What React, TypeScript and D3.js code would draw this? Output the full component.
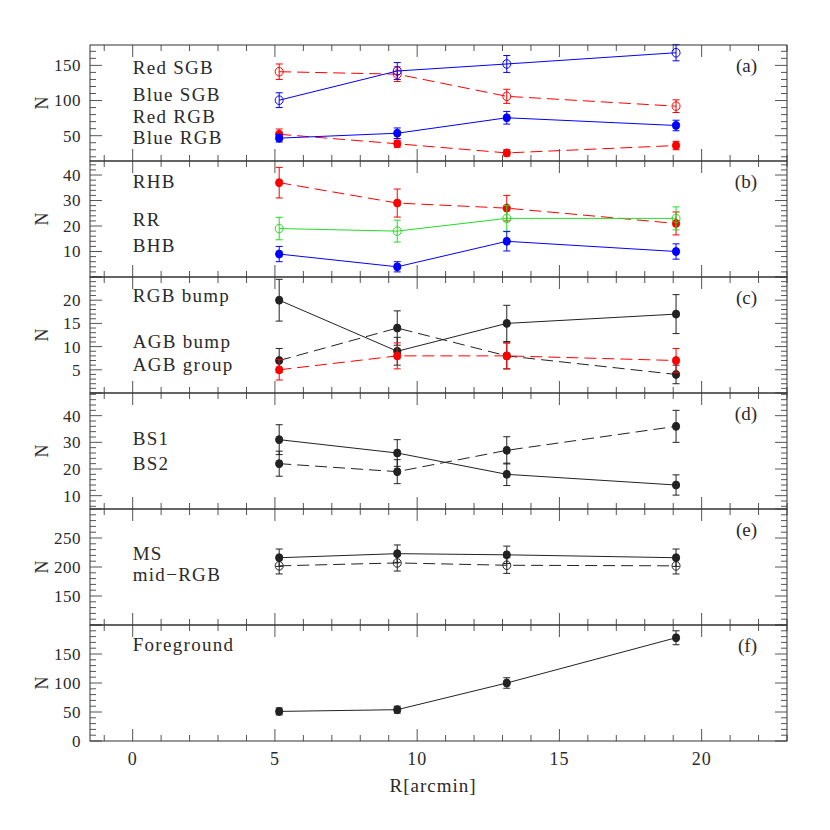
import React from "react";
import * as d3 from "d3";

// radial bins (arcmin)
const radius = [5.15, 9.3, 13.15, 19.1];

// (a) sub-giant / red giant branches
const redSGB = [141, 137.5, 106, 92];
const redSGBErr = [11, 10.5, 10, 9];
const blueSGB = [100.5, 142, 152, 168];
const blueSGBErr = [10.5, 12, 12, 11.5];
const redRGB = [52, 38.5, 25.5, 36];
const redRGBErr = [7.5, 5, 4.5, 6];
const blueRGB = [46.5, 53.5, 75.5, 64.5];
const blueRGBErr = [5.5, 7.5, 9, 7.5];

// (b) horizontal branch
const rhb = [37, 29, 27, 21];
const rhbErr = [6, 5.5, 5, 4.5];
const rr = [19, 18, 23, 23];
const rrErr = [4.4, 4.3, 5, 4.5];
const bhb = [9, 4, 14, 10];
const bhbErr = [3, 2, 3.8, 3];

// (c) bumps and AGB
const rgbBump = [20, 9, 15, 17];
const rgbBumpErr = [4.5, 3, 3.9, 4.2];
const agbBump = [7, 14, 8, 4];
const agbBumpErr = [2.6, 3.7, 2.8, 2];
const agbGroup = [5, 8, 8, 7];
const agbGroupErr = [2.2, 2.8, 2.8, 2.6];

// (d) blue stragglers
const bs1 = [31, 26, 18, 14];
const bs1Err = [5.6, 5, 4.2, 3.8];
const bs2 = [22, 19, 27, 36];
const bs2Err = [4.7, 4.5, 5.1, 6];

// (e) main sequence
const ms = [216, 223, 221, 216];
const msErr = [15, 15, 15, 15];
const midRGB = [202, 207, 203, 202];
const midRGBErr = [14, 14, 14, 14];

// (f) field
const foreground = [51, 54, 100, 178];
const foregroundErr = [6, 6, 9, 12];

const W = 830;
const H = 830;
const left = 90;
const right = 787;
const top = 45;
const bottom = 741;
const panelH = (bottom - top) / 6;
const FONT = "'Liberation Serif', 'Times New Roman', serif";
const TXT = "#2a2a2a";

const RED = "#ff0000";
const BLUE = "#0000ff";
const GREEN = "#22dd22";
const BLACK = "#222";

const panels = [
  {
    tag: "(a)", domain: [14, 179], major: 50, minor: 10,
    series: [
      { v: redSGB, e: redSGBErr, color: RED, dash: true, open: true },
      { v: blueSGB, e: blueSGBErr, color: BLUE, dash: false, open: true },
      { v: redRGB, e: redRGBErr, color: RED, dash: true, open: false },
      { v: blueRGB, e: blueRGBErr, color: BLUE, dash: false, open: false },
    ],
    labels: [["Red SGB", 22], ["Blue SGB", 49], ["Red RGB", 71], ["Blue RGB", 92]],
  },
  {
    tag: "(b)", domain: [0, 45.5], major: 10, minor: 2,
    series: [
      { v: rhb, e: rhbErr, color: RED, dash: true, open: false },
      { v: rr, e: rrErr, color: GREEN, dash: false, open: true },
      { v: bhb, e: bhbErr, color: BLUE, dash: false, open: false },
    ],
    labels: [["RHB", 20], ["RR", 58], ["BHB", 84]],
  },
  {
    tag: "(c)", domain: [0, 25], major: 5, minor: 1,
    series: [
      { v: rgbBump, e: rgbBumpErr, color: BLACK, dash: false, open: false },
      { v: agbBump, e: agbBumpErr, color: BLACK, dash: true, open: false },
      { v: agbGroup, e: agbGroupErr, color: RED, dash: true, open: false },
    ],
    labels: [["RGB bump", 18], ["AGB bump", 64], ["AGB group", 87]],
  },
  {
    tag: "(d)", domain: [5, 48.5], major: 10, minor: 2,
    series: [
      { v: bs1, e: bs1Err, color: BLACK, dash: false, open: false },
      { v: bs2, e: bs2Err, color: BLACK, dash: true, open: false },
    ],
    labels: [["BS1", 45], ["BS2", 70]],
  },
  {
    tag: "(e)", domain: [100, 300], major: 50, minor: 10,
    series: [
      { v: ms, e: msErr, color: BLACK, dash: false, open: false },
      { v: midRGB, e: midRGBErr, color: BLACK, dash: true, open: true },
    ],
    labels: [["MS", 44], ["mid\u2212RGB", 65]],
  },
  {
    tag: "(f)", domain: [0, 200], major: 50, minor: 10,
    series: [{ v: foreground, e: foregroundErr, color: BLACK, dash: false, open: false }],
    labels: [["Foreground", 19]],
  },
];

const x = d3.scaleLinear().domain([-1.5, 23]).range([left, right]);

const stepTicks = (d: number[], s: number) =>
  d3.range(Math.ceil(d[0] / s - 1e-9) * s, d[1] + 1e-9, s).map((t) => +t.toFixed(6));

const xMajor = stepTicks(x.domain(), 5);
const xMinor = stepTicks(x.domain(), 1).filter((t) => t % 5 !== 0);

function Panel({ p, i }: { p: any; i: number }) {
  const y0 = top + i * panelH;
  const y1 = y0 + panelH;
  const y = d3.scaleLinear().domain(p.domain).range([y1, y0]);
  const yMajor = stepTicks(p.domain, p.major);
  const yMinor = stepTicks(p.domain, p.minor).filter((t) => Math.abs(t / p.major - Math.round(t / p.major)) > 1e-6);
  const span = p.domain[1] - p.domain[0];
  // edge labels are dropped, except the zero at the very bottom of the last panel
  const showLabel = (t: number) =>
    t < p.domain[1] - 0.02 * span && (t > p.domain[0] + 0.02 * span || i === panels.length - 1);
  const line = d3.line<number>().x((_, j) => x(radius[j])).y((d) => y(d));
  const tick = "#555";
  return (
    <g>
      {/* x ticks on top and bottom edge */}
      {xMajor.map((t) => (
        <g key={"xm" + t}>
          <line x1={x(t)} x2={x(t)} y1={y0} y2={y0 + 12} stroke={tick} />
          <line x1={x(t)} x2={x(t)} y1={y1} y2={y1 - 12} stroke={tick} />
        </g>
      ))}
      {xMinor.map((t) => (
        <g key={"xn" + t}>
          <line x1={x(t)} x2={x(t)} y1={y0} y2={y0 + 6} stroke={tick} />
          <line x1={x(t)} x2={x(t)} y1={y1} y2={y1 - 6} stroke={tick} />
        </g>
      ))}
      {/* y ticks on left and right edge */}
      {yMajor.map((t) => (
        <g key={"ym" + t}>
          <line x1={left} x2={left + 12} y1={y(t)} y2={y(t)} stroke={tick} />
          <line x1={right} x2={right - 12} y1={y(t)} y2={y(t)} stroke={tick} />
          {showLabel(t) && (
            <text x={81} y={y(t)} dy="0.35em" textAnchor="end" fontSize={17} fill={TXT}
              fontFamily={FONT} letterSpacing={0.5}>{t}</text>
          )}
        </g>
      ))}
      {yMinor.map((t) => (
        <g key={"yn" + t}>
          <line x1={left} x2={left + 6} y1={y(t)} y2={y(t)} stroke={tick} />
          <line x1={right} x2={right - 6} y1={y(t)} y2={y(t)} stroke={tick} />
        </g>
      ))}
      <text transform={`translate(42,${(y0 + y1) / 2}) rotate(-90)`} textAnchor="middle" dy="0.35em"
        fontSize={18} fill={TXT} fontFamily={FONT}>N</text>

      {p.series.map((s: any, k: number) => (
        <g key={"s" + k}>
          <path d={line(s.v) || ""} fill="none" stroke={s.color} strokeWidth={1}
            strokeDasharray={s.dash ? "12,6" : undefined} />
          {s.v.map((v: number, j: number) => {
            const cx = x(radius[j]);
            const ya = y(v + s.e[j]);
            const yb = y(v - s.e[j]);
            return (
              <g key={j} stroke={s.color} strokeWidth={1}>
                <line x1={cx} x2={cx} y1={ya} y2={yb} />
                <line x1={cx - 3.5} x2={cx + 3.5} y1={ya} y2={ya} />
                <line x1={cx - 3.5} x2={cx + 3.5} y1={yb} y2={yb} />
                <ellipse cx={cx} cy={y(v)} rx={s.open ? 4 : 3.6} ry={s.open ? 4.3 : 4}
                  fill={s.open ? "white" : s.color} fillOpacity={s.open ? 0 : 1} />
              </g>
            );
          })}
        </g>
      ))}

      {p.labels.map((l: any) => (
        <text key={l[0]} x={x(0)} y={y0 + l[1]} dy="0.35em" fontSize={19} fill={TXT}
          fontFamily={FONT} letterSpacing={1.3}>{l[0]}</text>
      ))}
      <text x={757} y={y0 + 20} dy="0.35em" textAnchor="end" fontSize={19} fill={TXT}
        fontFamily={FONT}>{p.tag}</text>
      <rect x={left} y={y0} width={right - left} height={panelH} fill="none" stroke="#333" strokeWidth={1} />
    </g>
  );
}

export default function App() {
  return (
    <svg width={W} height={H} style={{ display: "block", position: "absolute", left: 0, top: 0, background: "white" }}>
      <rect width={W} height={H} fill="white" />
      {panels.map((p, i) => (
        <Panel key={p.tag} p={p} i={i} />
      ))}
      {xMajor.map((t) => (
        <text key={t} x={x(t)} y={759} dy="0.35em" textAnchor="middle" fontSize={18} fill={TXT}
          fontFamily={FONT} letterSpacing={1}>{t}</text>
      ))}
      <text x={433} y={785} dy="0.35em" textAnchor="middle" fontSize={19} fill={TXT}
        fontFamily={FONT} letterSpacing={1}>R[arcmin]</text>
    </svg>
  );
}
